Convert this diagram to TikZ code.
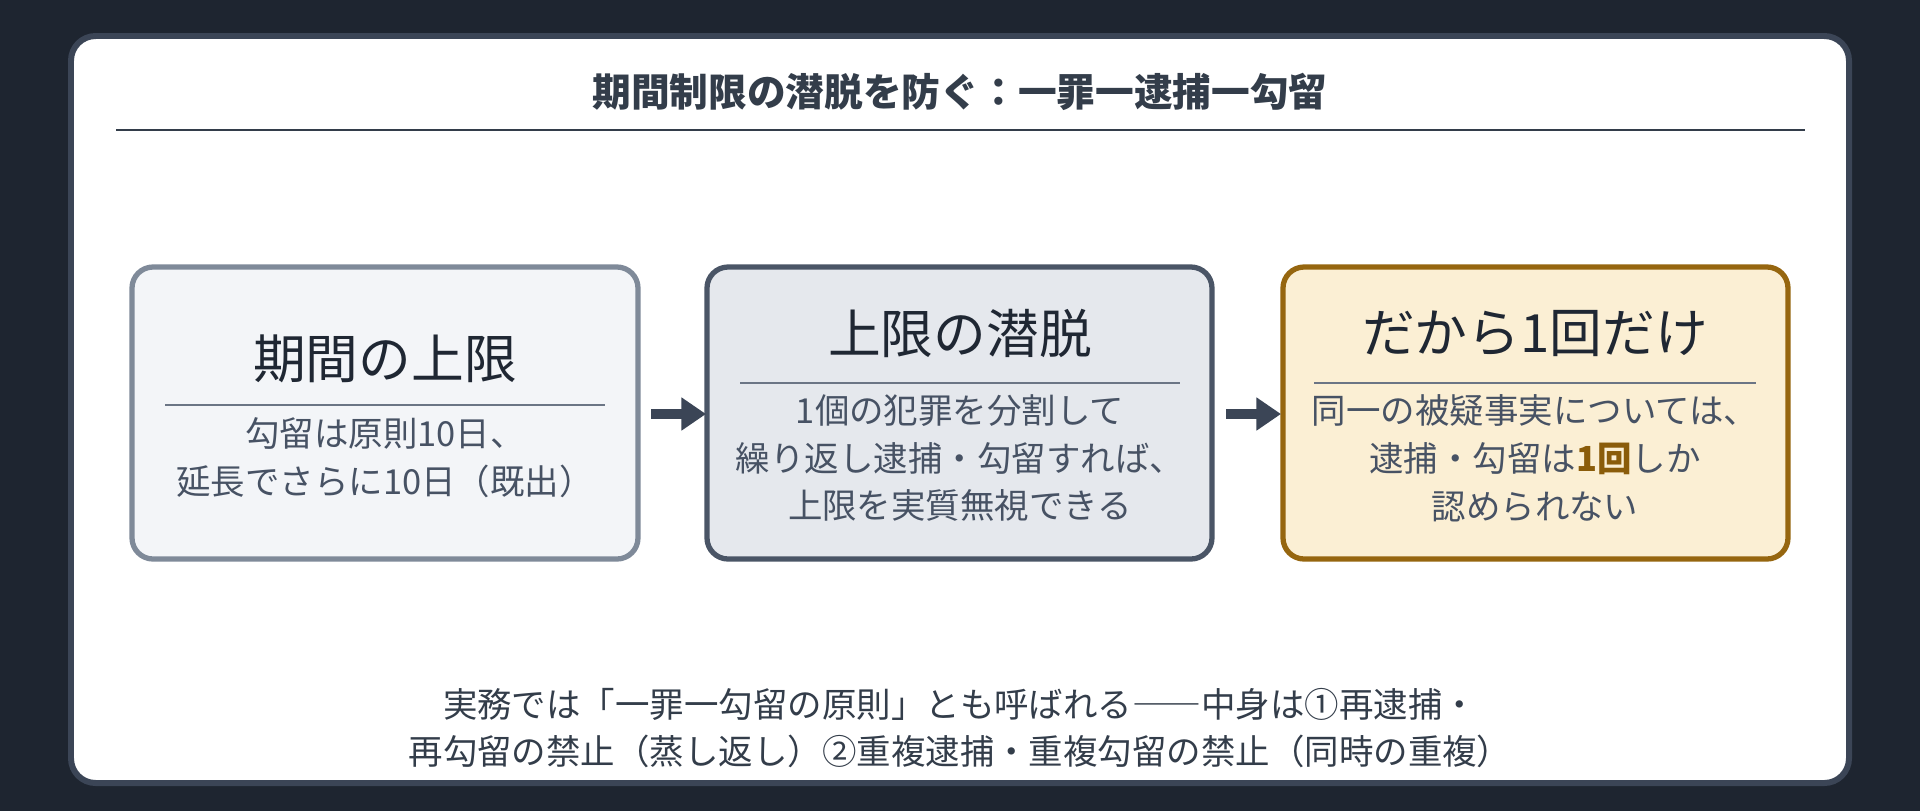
\documentclass[tikz,border=0pt]{standalone}
\usepackage{fontspec}
\setmainfont{Noto Sans CJK JP}
\usetikzlibrary{arrows.meta}
\definecolor{bg}{HTML}{1E2530}
\definecolor{pborder}{HTML}{3B4556}
\definecolor{ttl}{HTML}{333D4A}
\definecolor{bodyc}{HTML}{475264}
\definecolor{btl}{HTML}{1F2733}
\definecolor{rulec}{HTML}{6B7585}
\definecolor{fa}{HTML}{F3F5F8}\definecolor{da}{HTML}{7F8A99}
\definecolor{fb}{HTML}{E5E8ED}\definecolor{db}{HTML}{4A5566}
\definecolor{fc}{HTML}{FBEFD4}\definecolor{dc}{HTML}{96660F}
\definecolor{hl}{HTML}{8A5C0A}
\tikzset{
 box/.style={draw, line width=1.5pt, rounded corners=6pt},
 btitle/.style={text=btl, font=\fontsize{15}{18}\selectfont, inner sep=0},
 body/.style={text=bodyc, font=\fontsize{9.8}{13.6}\selectfont, align=center, inner sep=0},
 brule/.style={draw=rulec, line width=0.8pt},
 arr/.style={draw=pborder, line width=3pt, -{Triangle[length=7pt,width=9pt]}}
}
\begin{document}
\begin{tikzpicture}[x=0.01cm,y=-0.01cm]
\fill[bg] (0,0) rectangle (1920,811);
\draw[fill=white, draw=pborder, line width=1.7pt, rounded corners=7pt] (71,36) rectangle (1849,783);
\node[text=ttl, font=\fontsize{11}{13}\selectfont\bfseries, inner sep=0] (t) at (960,92) {期間制限の潜脱を防ぐ：一罪一逮捕一勾留};
\draw[draw=ttl, line width=0.8pt] (116,130) -- (1805,130);
% box 1
\draw[box, fill=fa, draw=da] (132,267) rectangle (638,559);
\node (a) at (385,413) {};
\node[btitle] (at) at (385,359) {期間の上限};
\draw[brule] (165,405) -- (605,405);
\node[body] (ab) at (385,458) {勾留は原則10日、\\延長でさらに10日（既出）};
% box 2
\draw[box, fill=fb, draw=db] (707,267) rectangle (1212,559);
\node (b) at (960,413) {};
\node[btitle] (bt) at (960,333) {上限の潜脱};
\draw[brule] (740,383) -- (1180,383);
\node[body] (bb) at (960,458) {1個の犯罪を分割して\\繰り返し逮捕・勾留すれば、\\上限を実質無視できる};
% box 3
\draw[box, fill=fc, draw=dc] (1283,267) rectangle (1788,559);
\node (c) at (1535,413) {};
\node[btitle] (ct) at (1535,333) {だから1回だけ};
\draw[brule] (1314,383) -- (1756,383);
\node[body] (cb) at (1535,458) {同一の被疑事実については、\\逮捕・勾留は\textcolor{hl}{\bfseries 1回}しか\\認められない};
% arrows
\coordinate (a1) at (651,414); \coordinate (a2) at (706,414);
\coordinate (b1) at (1226,414); \coordinate (b2) at (1281,414);
\draw[arr] (a1) -- (a2);
\draw[arr] (b1) -- (b2);
\node[body, text=ttl] (f) at (960,728) {実務では「一罪一勾留の原則」とも呼ばれる――中身は①再逮捕・\\再勾留の禁止（蒸し返し）②重複逮捕・重複勾留の禁止（同時の重複）};
\end{tikzpicture}
\end{document}
